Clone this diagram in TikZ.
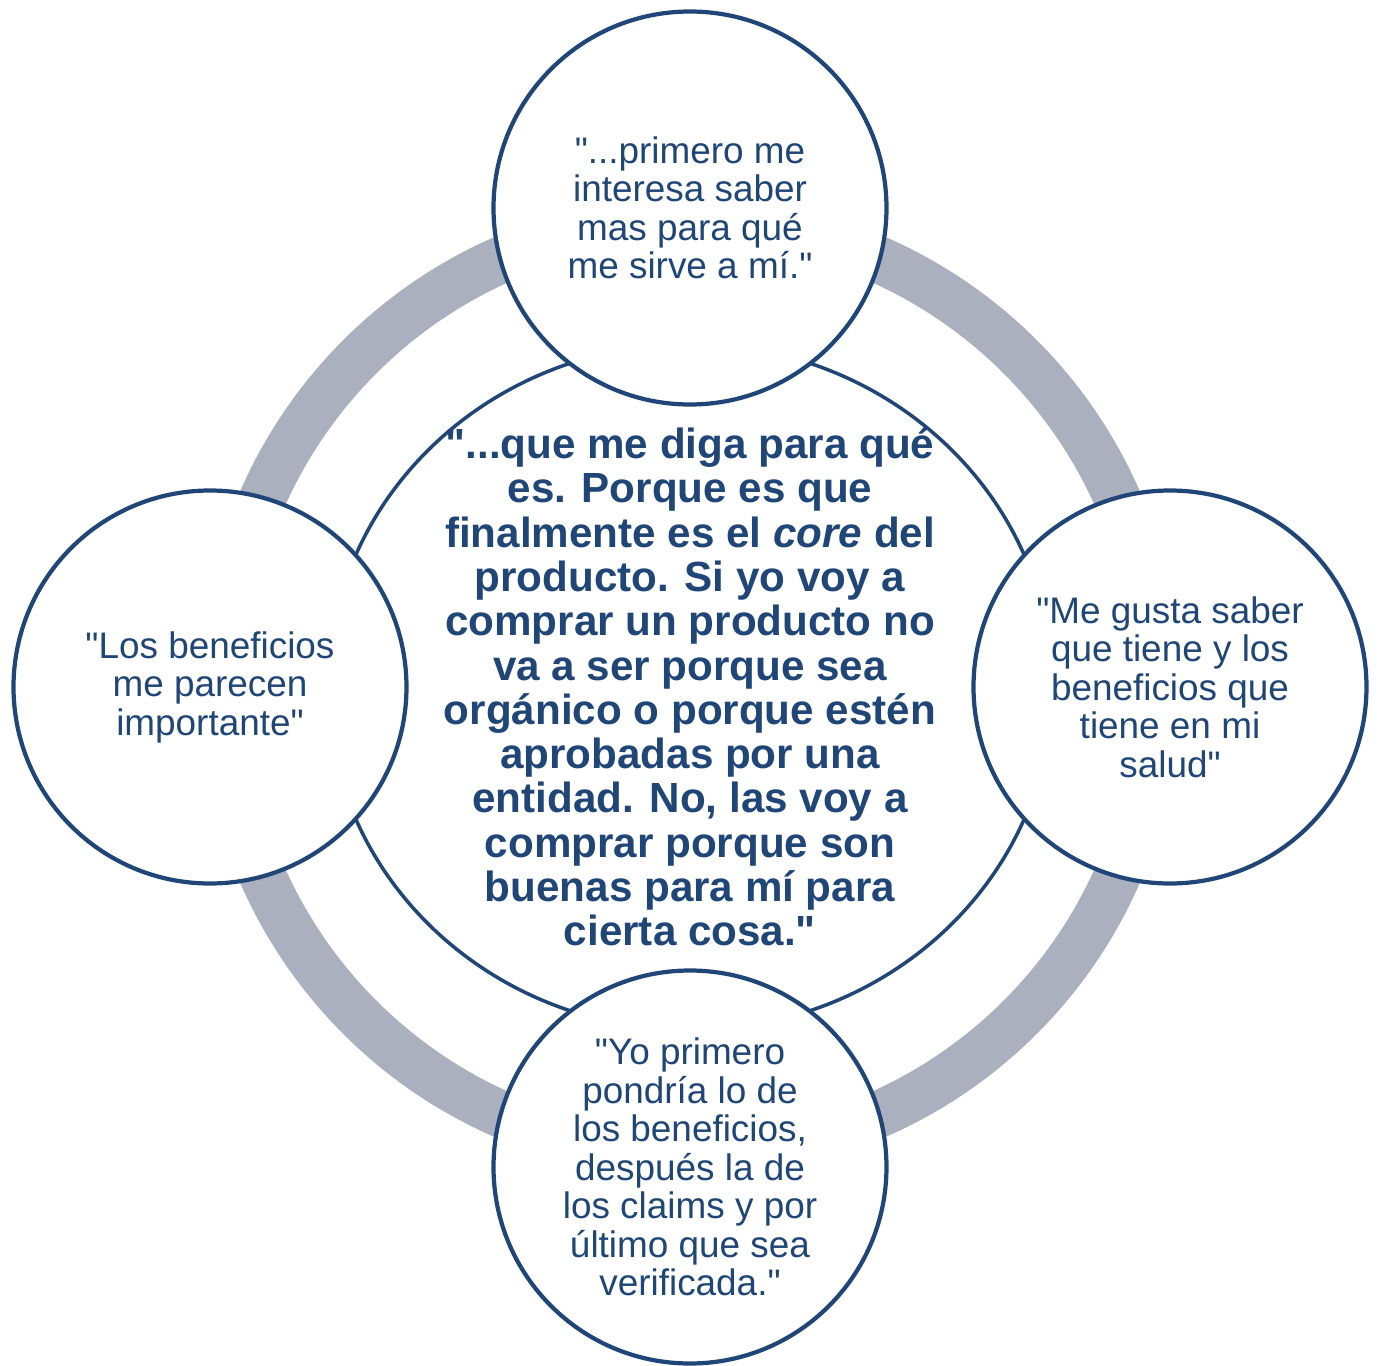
\documentclass[tikz,border=0pt]{standalone}
\usepackage{fontspec}
\setmainfont{Liberation Sans}[Ligatures=TeXOff]
\usetikzlibrary{shapes.geometric}

\definecolor{quoteblue}{HTML}{1F4677}
\definecolor{ringgray}{HTML}{ABB0BF}

\begin{document}
\begin{tikzpicture}[
    bubble/.style={circle, minimum size=7.86cm, inner sep=0pt, draw=quoteblue, fill=white, line width=2.4pt, text=quoteblue, align=center, font=\fontsize{21pt}{21.9pt}\selectfont},
    hub/.style={ellipse, minimum width=14.48cm, minimum height=13.72cm, inner sep=0pt, draw=quoteblue, fill=white, line width=2pt},
    hubtext/.style={text=quoteblue, align=center, font=\fontsize{24pt}{25.2pt}\selectfont\bfseries},
    ring/.style={draw=ringgray, line width=0.94cm}
]
\useasboundingbox (-13.8,-13.56) rectangle (13.8,13.74);

% Grey ring through the outer quotes
\coordinate (mid) at (0,0);
\draw[ring] (mid) circle (9.34cm);

% Central quote
\node[hub] (core) at (mid) {};
\node[hubtext] (coretext) at (core.center) {"...que me diga para qué\\
es. Porque es que\\
finalmente es el \textit{core} del\\
producto. Si yo voy a\\
comprar un producto no\\
va a ser porque sea\\
orgánico o porque estén\\
aprobadas por una\\
entidad. No, las voy a\\
comprar porque son\\
buenas para mí para\\
cierta cosa."};

% Outer quotes
\node[bubble] (top) at (0,9.58) {"...primero me\\interesa saber\\mas para qué\\me sirve a mí."};
\node[bubble] (left) at (-9.6,0) {"Los beneficios\\me parecen\\importante"};
\node[bubble] (right) at (9.6,0) {"Me gusta saber\\que tiene y los\\beneficios que\\tiene en mi\\salud"};
\node[bubble] (bottom) at (0,-9.6) {"Yo primero\\pondría lo de\\los beneficios,\\después la de\\los claims y por\\último que sea\\verificada."};

\end{tikzpicture}
\end{document}
